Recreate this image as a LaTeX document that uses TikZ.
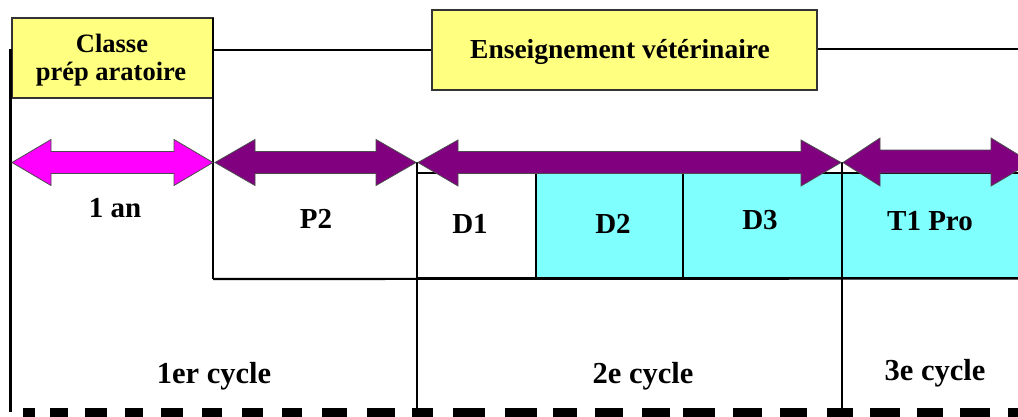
\documentclass[tikz,border=0pt]{standalone}
\usepackage{fontspec}
\setmainfont{Liberation Serif}
\definecolor{ylw}{HTML}{FFFF80}
\definecolor{pnk}{HTML}{FF00FF}
\definecolor{prp}{HTML}{800080}
\definecolor{cyn}{HTML}{80FFFF}
\begin{document}
\begin{tikzpicture}[x=1pt,y=-1pt,
  ybox/.style={draw=black!80,line width=1.2pt,fill=ylw,inner sep=0pt},
  cbox/.style={draw=black,line width=2pt,fill=cyn,inner sep=0pt},
  rule/.style={line width=2.2pt,draw=black},
  arr/.style={draw=black!70,line width=0.8pt},
  lbl/.style={font=\bfseries\fontsize{29}{32}\selectfont,anchor=base,inner sep=0pt},
  cyc/.style={font=\bfseries\fontsize{30.5}{32}\selectfont,anchor=base,inner sep=0pt},
  hd/.style={font=\bfseries\fontsize{26.5}{28}\selectfont,anchor=base,inner sep=0pt}]
\clip (0,0) rectangle (1018,416);
\fill[white] (0,0) rectangle (1018,416);
% yellow header boxes
\node[ybox,minimum width=201pt,minimum height=80pt] (prep) at (112.5,58) {};
\node[ybox,minimum width=385pt,minimum height=80pt] (ens) at (624.5,50) {};
% cells
\node[cbox,fill=white,minimum width=119pt,minimum height=105pt] (d1) at (476.5,225.5) {};
\node[cbox,minimum width=147pt,minimum height=105pt] (d2) at (609.5,225.5) {};
\node[cbox,minimum width=159pt,minimum height=105pt] (d3) at (762.5,225.5) {};
\node[cbox,minimum width=190pt,minimum height=105pt] (t1) at (937,225.5) {};
% rules
\coordinate (l0) at (10.5,49);
\coordinate (l1) at (10.5,412);
\coordinate (p0) at (213,18);
\coordinate (p1) at (213,279);
\coordinate (q0) at (417,162);
\coordinate (q1) at (417,410);
\coordinate (r0) at (842,162);
\coordinate (r1) at (842,410);
\coordinate (e1) at (1020,49);
\coordinate (b1) at (1020,278.5);
\draw[rule] (l0) -- (l1);
\draw[rule] (p0) -- (p1);
\draw[rule] (p1) -- (b1);
\draw[rule] (prep.north east |- 0,50) -- (ens.west |- 0,50);
\draw[rule] (ens.east |- 0,49) -- (e1);
\draw[rule] (q0) -- (q1);
\draw[rule] (r0) -- (r1);
% double arrows
\draw[arr,fill=pnk] (12,162.5) -- (51,139.5) -- (51,151.5) -- (174,151.5) -- (174,139.5) -- (213,162.5) -- (174,185.5) -- (174,173.5) -- (51,173.5) -- (51,185.5) -- cycle;
\draw[arr,fill=prp] (215,162.5) -- (255,139.5) -- (255,151.5) -- (376,151.5) -- (376,139.5) -- (416,162.5) -- (376,185.5) -- (376,173.5) -- (255,173.5) -- (255,185.5) -- cycle;
\draw[arr,fill=prp] (418,162.5) -- (458,140) -- (458,151.5) -- (801,151.5) -- (801,140) -- (841,162.5) -- (801,186) -- (801,173.5) -- (458,173.5) -- (458,186) -- cycle;
\draw[arr,fill=prp] (843,162.5) -- (880,138) -- (880,150) -- (991,150) -- (991,138) -- (1031,162.5) -- (991,186) -- (991,173) -- (880,173) -- (880,186) -- cycle;
% dashed base line
\foreach \a/\b in {23/35,50/68,85/107,125/143,161/183,202/222,242/263,282/302,322/347,367/395,412/433,453/485,505/537,553/577,595/623,642/670,683/715,733/762,780/807,827/853,870/900,917/943,960/990,1008/1030}
  \fill[black] (\a,408) rectangle (\b,417);
% texts
\node[hd] (t-cl) at (112,52) {Classe};
\node[hd] (t-pr) at (111,80) {prép aratoire};
\node[hd,font=\bfseries\fontsize{27.5}{30}\selectfont] (t-en) at (620,58) {Enseignement vétérinaire};
\node[lbl] (t-an) at (115,217) {1 an};
\node[lbl] (t-p2) at (316,228) {P2};
\node[lbl] (t-d1) at (470,233) {D1};
\node[lbl] (t-d2) at (613,233) {D2};
\node[lbl] (t-d3) at (760,229) {D3};
\node[lbl] (t-t1) at (930,230) {T1 Pro};
\node[cyc] (c1) at (214,383) {1er cycle};
\node[cyc] (c2) at (643,383) {2e cycle};
\node[cyc] (c3) at (935,380) {3e cycle};
\end{tikzpicture}
\end{document}
